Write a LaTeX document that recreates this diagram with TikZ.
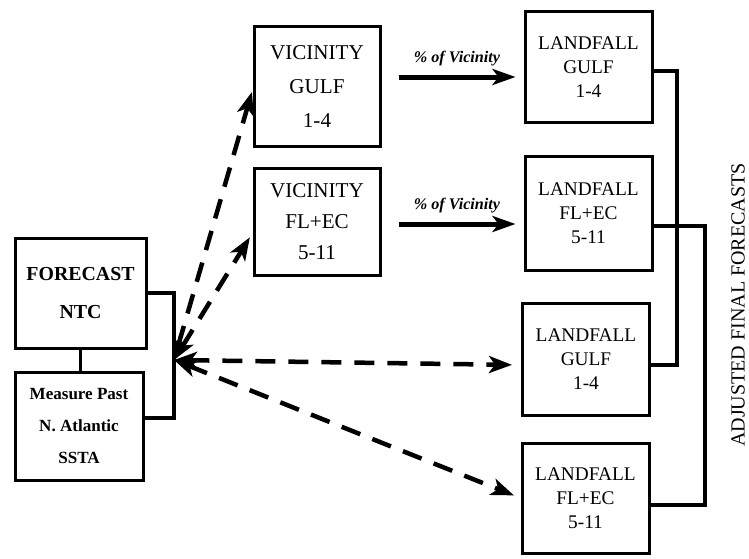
\documentclass[tikz,border=0pt]{standalone}
\usepackage{fontspec}
\setmainfont{Liberation Serif}
\usetikzlibrary{arrows.meta,calc}
\tikzset{
  fbox/.style={draw, line width=0.06cm, minimum width=2.54cm, align=center, inner sep=0pt},
  flow/.style={line width=0.1cm, -{Stealth[length=0.46cm,width=0.32cm,inset=0.12cm]}},
  vlink/.style={line width=0.09cm, dash pattern=on 0.4cm off 0.26cm,
    {Stealth[length=0.46cm,width=0.34cm,inset=0.12cm]}-{Stealth[length=0.46cm,width=0.34cm,inset=0.12cm]}},
  joinline/.style={line width=0.08cm}
}
\begin{document}
\begin{tikzpicture}
        \useasboundingbox (0.000000,0.000000) rectangle (14.980000,11.160000);
        {\fontsize{11}{13.7}\selectfont

        % Drawing box forecast
        \node [fbox, minimum width=2.62cm, minimum height=2.20cm, font=\bfseries\fontsize{11.3}{21.6}\selectfont] (forecast) at (1.610000,5.300000) {FORECAST\\NTC};%

        % Drawing box measure
        \node [fbox, minimum width=2.56cm, minimum height=2.16cm, font=\bfseries\fontsize{9.7}{18.2}\selectfont] (measure) at (1.580000,2.640000) {Measure Past\\N. Atlantic\\SSTA};%

        % Drawing boxes vicinity
        \node [fbox, minimum width=2.52cm, minimum height=2.38cm, font=\fontsize{12}{19.5}\selectfont] (vicgulf) at (6.340000,9.430000) {VICINITY\\GULF\\1-4};%
        \node [fbox, minimum width=2.52cm, minimum height=2.14cm, font=\fontsize{12}{17.5}\selectfont] (vicfl) at (6.340000,6.730000) {VICINITY\\FL+EC\\5-11};%

        % Drawing boxes landfall
        \node [fbox, minimum height=2.20cm] (landgulf) at (11.770000,9.820000) {LANDFALL\\GULF\\1-4};%
        \node [fbox, minimum height=2.28cm] (landfl) at (11.770000,6.900000) {LANDFALL\\FL+EC\\5-11};%
        \node [fbox, minimum height=2.24cm] (landgulfb) at (11.720000,3.980000) {LANDFALL\\GULF\\1-4};%
        \node [fbox, minimum height=2.20cm] (landflb) at (11.710000,1.200000) {LANDFALL\\FL+EC\\5-11};%

        % Marking hub of dashed arrows
        \coordinate (hub) at (3.480000,3.960000);%

        % Drawing link forecast measure
        \draw [line width=0.06cm] (forecast.south) -- (forecast.south |- measure.north);%
        \draw [joinline] ([yshift=0.00cm]forecast.east) -- ++(0.52,0) |- ([yshift=0.16cm]measure.east);%

        % Drawing dashed arrows
        \draw [vlink, shorten >=0.04cm] (hub) -- ([yshift=-0.07cm]vicgulf.west);%
        \draw [vlink, shorten >=0.10cm] (hub) -- ([yshift=-0.23cm]vicfl.west);%
        \draw [vlink, shorten >=0.18cm] (hub) -- ([yshift=-0.12cm]landgulfb.west);%
        \draw [vlink, shorten >=0.14cm] (hub) -- (landflb.west);%

        % Drawing arrows percent of vicinity
        \draw [flow] ($(vicgulf.east)+(0.34,0.19)$) -- ($(vicgulf.east -| landgulf.west)+(-0.16,0.19)$) node [midway, above=0.05cm, font=\bfseries\itshape\fontsize{9.2}{10}\selectfont] (pctgulf) {\% of Vicinity};%
        \draw [flow] ($(vicfl.east)+(0.34,-0.05)$) -- ($(vicfl.east -| landfl.west)+(-0.16,-0.05)$) node [midway, above=0.05cm, font=\bfseries\itshape\fontsize{9.2}{10}\selectfont] (pctfl) {\% of Vicinity};%

        % Drawing brackets to final forecasts
        \draw [joinline] ([yshift=-0.08cm]landgulf.east) -- ++(0.47,0) |- ([yshift=-0.12cm]landgulfb.east);%
        \draw [joinline] ([yshift=-0.26cm]landfl.east) -- ++(1.03,0) |- ([yshift=-0.14cm]landflb.east);%

        % Marking final forecasts
        \node [rotate=90, font=\fontsize{11.4}{12}\selectfont] (adjusted) at (14.760000,5.060000) {ADJUSTED FINAL FORECASTS};%
        }
\end{tikzpicture}
\end{document}
